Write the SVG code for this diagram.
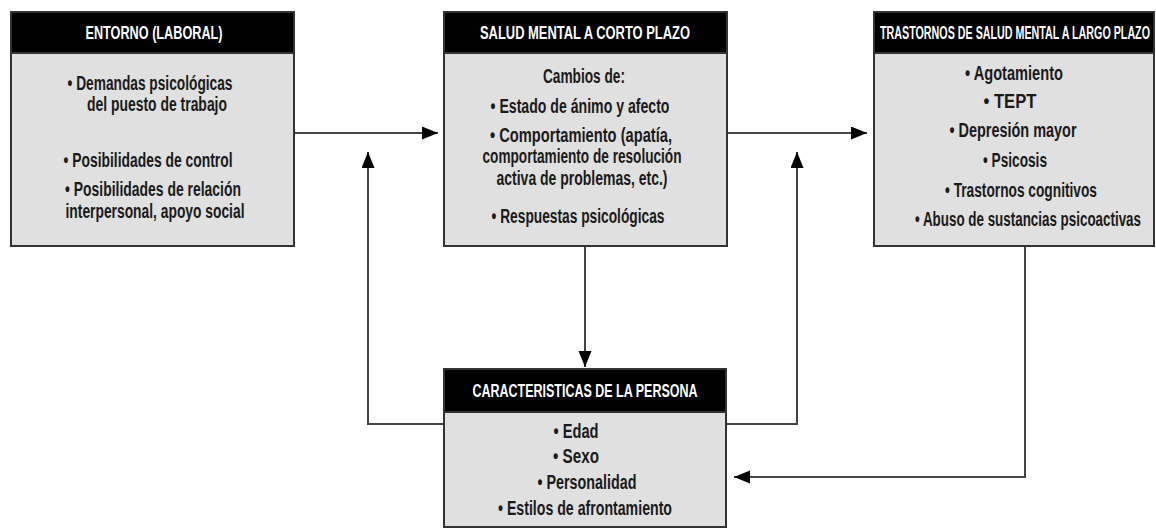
<svg xmlns="http://www.w3.org/2000/svg" width="1156" height="529" viewBox="0 0 1156 529">
<style>
.box{fill:#e0e0e0;stroke:#333;stroke-width:2}
.hdr{fill:#000;stroke:#333;stroke-width:2}
.ht{font-family:"Liberation Sans",Arial,sans-serif;font-weight:bold;font-size:19px;fill:#fff;text-anchor:middle}
.t{font-family:"Liberation Sans",Arial,sans-serif;font-weight:bold;font-size:20px;fill:#1a1a1a;text-anchor:middle}
.c{fill:none;stroke:#444;stroke-width:2}
</style>
<defs>
<marker id="ah" markerUnits="userSpaceOnUse" markerWidth="18" markerHeight="14" refX="16" refY="6.5" orient="auto">
<path d="M0,0 L16,6.5 L0,13 z" fill="#000"/>
</marker>
</defs>
<rect width="1156" height="529" fill="#fff"/>
<g id="connectors">
<line class="c" x1="295" y1="133" x2="438" y2="133" marker-end="url(#ah)"/>
<line class="c" x1="728" y1="133" x2="867" y2="133" marker-end="url(#ah)"/>
<line class="c" x1="585" y1="247" x2="585" y2="367" marker-end="url(#ah)"/>
<polyline class="c" points="443,424 368,424 368,152" marker-end="url(#ah)"/>
<polyline class="c" points="727,424 797,424 797,152" marker-end="url(#ah)"/>
<polyline class="c" points="1025,246 1025,477 734,477" marker-end="url(#ah)"/>
</g>
<g id="entorno">
<rect class="box" x="11" y="12" width="283" height="234"/>
<rect class="hdr" x="11" y="12" width="283" height="41"/>
<text class="ht" transform="translate(154,39) scale(0.6,1)" textLength="228.3" lengthAdjust="spacingAndGlyphs">ENTORNO (LABORAL)</text>
<text class="t" transform="translate(150,90) scale(0.6,1)" textLength="275" lengthAdjust="spacingAndGlyphs">• Demandas psicológicas</text>
<text class="t" transform="translate(157,111) scale(0.6,1)" textLength="233.3" lengthAdjust="spacingAndGlyphs">del puesto de trabajo</text>
<text class="t" transform="translate(148,167) scale(0.6,1)" textLength="281.7" lengthAdjust="spacingAndGlyphs">• Posibilidades de control</text>
<text class="t" transform="translate(153,196) scale(0.6,1)" textLength="293.3" lengthAdjust="spacingAndGlyphs">• Posibilidades de relación</text>
<text class="t" transform="translate(155,218) scale(0.6,1)" textLength="298.3" lengthAdjust="spacingAndGlyphs">interpersonal, apoyo social</text>
</g>
<g id="corto-plazo">
<rect class="box" x="444" y="12" width="283" height="234"/>
<rect class="hdr" x="444" y="12" width="283" height="41"/>
<text class="ht" transform="translate(585,39) scale(0.6,1)" textLength="350" lengthAdjust="spacingAndGlyphs">SALUD MENTAL A CORTO PLAZO</text>
<text class="t" transform="translate(584,83) scale(0.6,1)" textLength="136.7" lengthAdjust="spacingAndGlyphs">Cambios de:</text>
<text class="t" transform="translate(580,113) scale(0.6,1)" textLength="298.3" lengthAdjust="spacingAndGlyphs">• Estado de ánimo y afecto</text>
<text class="t" transform="translate(581,142) scale(0.6,1)" textLength="303.3" lengthAdjust="spacingAndGlyphs">• Comportamiento (apatía,</text>
<text class="t" transform="translate(582,163) scale(0.6,1)" textLength="331.7" lengthAdjust="spacingAndGlyphs">comportamiento de resolución</text>
<text class="t" transform="translate(582,185) scale(0.6,1)" textLength="285" lengthAdjust="spacingAndGlyphs">activa de problemas, etc.)</text>
<text class="t" transform="translate(578,223) scale(0.6,1)" textLength="288.3" lengthAdjust="spacingAndGlyphs">• Respuestas psicológicas</text>
</g>
<g id="largo-plazo">
<rect class="box" x="874" y="12" width="280" height="234"/>
<rect class="hdr" x="874" y="12" width="280" height="41"/>
<text class="ht" transform="translate(1015,39) scale(0.5,1)" textLength="540" lengthAdjust="spacingAndGlyphs">TRASTORNOS DE SALUD MENTAL A LARGO PLAZO</text>
<text class="t" transform="translate(1014,80) scale(0.6,1)" textLength="163.3" lengthAdjust="spacingAndGlyphs">• Agotamiento</text>
<text class="t" transform="translate(1010,108) scale(0.6,1)" textLength="88.3" lengthAdjust="spacingAndGlyphs">• TEPT</text>
<text class="t" transform="translate(1013,137) scale(0.6,1)" textLength="211.7" lengthAdjust="spacingAndGlyphs">• Depresión mayor</text>
<text class="t" transform="translate(1015,167) scale(0.6,1)" textLength="106.7" lengthAdjust="spacingAndGlyphs">• Psicosis</text>
<text class="t" transform="translate(1021,197) scale(0.6,1)" textLength="253.3" lengthAdjust="spacingAndGlyphs">• Trastornos cognitivos</text>
<text class="t" transform="translate(1028,226) scale(0.6,1)" textLength="376.7" lengthAdjust="spacingAndGlyphs">• Abuso de sustancias psicoactivas</text>
</g>
<g id="persona">
<rect class="box" x="444" y="369" width="282" height="158"/>
<rect class="hdr" x="444" y="369" width="282" height="43"/>
<text class="ht" transform="translate(585,397) scale(0.6,1)" textLength="375" lengthAdjust="spacingAndGlyphs">CARACTERISTICAS DE LA PERSONA</text>
<text class="t" transform="translate(576,438) scale(0.6,1)" textLength="75" lengthAdjust="spacingAndGlyphs">• Edad</text>
<text class="t" transform="translate(576,463) scale(0.6,1)" textLength="76.7" lengthAdjust="spacingAndGlyphs">• Sexo</text>
<text class="t" transform="translate(587,489) scale(0.6,1)" textLength="165" lengthAdjust="spacingAndGlyphs">• Personalidad</text>
<text class="t" transform="translate(585,515) scale(0.6,1)" textLength="290" lengthAdjust="spacingAndGlyphs">• Estilos de afrontamiento</text>
</g>
</svg>
